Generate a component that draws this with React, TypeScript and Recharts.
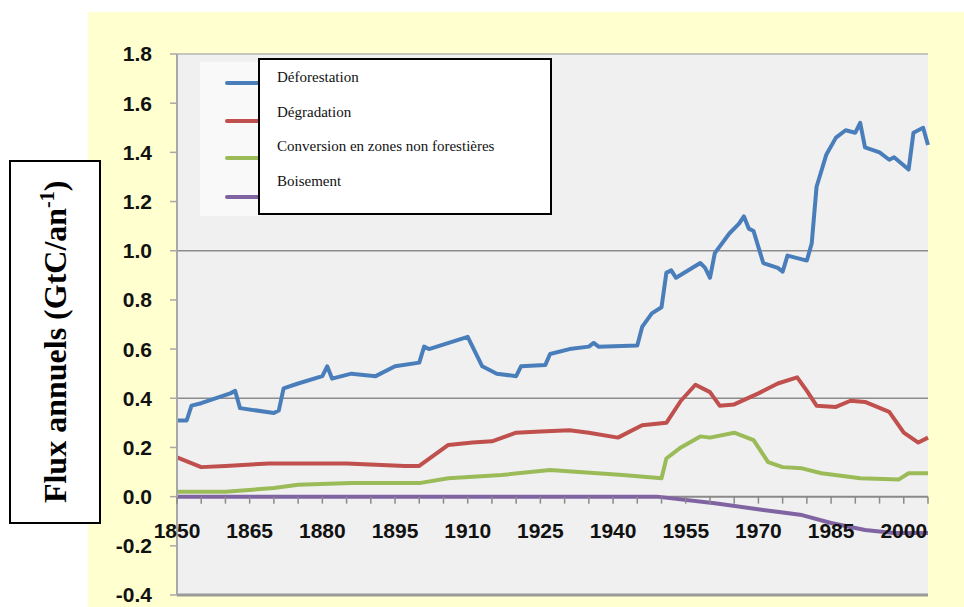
import React from 'react';
import {
  LineChart,
  Line,
  XAxis,
  YAxis,
  CartesianGrid,
  ReferenceLine,
  Legend,
} from 'recharts';

const W = 964;
const H = 607;
const PLOT_TOP = 54;
const PLOT_BOTTOM = 595;
const PLOT_LEFT = 177;
const PLOT_RIGHT = 928;
const Y_AXIS_W = 87;

const Y_MIN = -0.4;
const Y_MAX = 1.8;
const Y_TICKS = [-0.4, -0.2, 0, 0.2, 0.4, 0.6, 0.8, 1.0, 1.2, 1.4, 1.6, 1.8];
const X_TICKS = [
  1850, 1855, 1860, 1865, 1870, 1875, 1880, 1885, 1890, 1895, 1900, 1905, 1910, 1915, 1920,
  1925, 1930, 1935, 1940, 1945, 1950, 1955, 1960, 1965, 1970, 1975, 1980, 1985, 1990, 1995,
  2000, 2005,
];
const X_LABELS = [1850, 1865, 1880, 1895, 1910, 1925, 1940, 1955, 1970, 1985, 2000];

// Déforestation
const defoYears = [
  1850, 1852, 1853, 1855, 1861, 1862, 1863, 1870, 1871, 1872, 1875, 1880, 1881, 1882, 1886,
  1891, 1895, 1900, 1901, 1902, 1910, 1913, 1916, 1920, 1921, 1926, 1927, 1931, 1935, 1936,
  1937, 1945, 1946, 1948, 1950, 1951, 1952, 1953, 1958, 1959, 1960, 1961, 1964, 1966, 1967,
  1968, 1969, 1971, 1974, 1975, 1976, 1979, 1980, 1981, 1982, 1984, 1986, 1988, 1990, 1991,
  1992, 1995, 1997, 1998, 2001, 2002, 2004, 2005,
];
const defoValues = [
  0.31, 0.31, 0.37, 0.38, 0.42, 0.43, 0.36, 0.34, 0.35, 0.44, 0.46, 0.49, 0.53, 0.48, 0.5,
  0.49, 0.53, 0.545, 0.61, 0.6, 0.65, 0.53, 0.5, 0.49, 0.53, 0.535, 0.58, 0.6, 0.61, 0.625,
  0.61, 0.615, 0.69, 0.745, 0.77, 0.91, 0.92, 0.89, 0.95, 0.93, 0.89, 0.99, 1.07, 1.11, 1.14,
  1.09, 1.08, 0.95, 0.93, 0.915, 0.98, 0.965, 0.96, 1.03, 1.26, 1.39, 1.46, 1.49, 1.48, 1.52,
  1.42, 1.4, 1.37, 1.38, 1.33, 1.48, 1.5, 1.43,
];

// Dégradation
const degrYears = [
  1850, 1855, 1860, 1869, 1885, 1897, 1900, 1906, 1911, 1915, 1920, 1925, 1931, 1935, 1941,
  1946, 1951, 1954, 1957, 1960, 1962, 1965, 1970, 1974, 1978, 1980, 1982, 1986, 1989, 1992,
  1997, 2000, 2003, 2005,
];
const degrValues = [
  0.16, 0.12, 0.125, 0.135, 0.135, 0.125, 0.125, 0.21, 0.22, 0.225, 0.26, 0.265, 0.27, 0.26,
  0.24, 0.29, 0.3, 0.39, 0.455, 0.425, 0.37, 0.375, 0.42, 0.46, 0.485, 0.43, 0.37, 0.365, 0.39,
  0.385, 0.345, 0.26, 0.22, 0.24,
];

// Conversion en zones non forestières
const convYears = [
  1850, 1860, 1870, 1875, 1886, 1900, 1906, 1917, 1927, 1933, 1942, 1950, 1951, 1954, 1958,
  1960, 1965, 1969, 1972, 1975, 1979, 1983, 1991, 1999, 2001, 2005,
];
const convValues = [
  0.02, 0.02, 0.035, 0.048, 0.055, 0.055, 0.075, 0.088, 0.108, 0.1, 0.088, 0.075, 0.155, 0.2,
  0.245, 0.24, 0.26, 0.23, 0.14, 0.12, 0.115, 0.095, 0.075, 0.07, 0.095, 0.095,
];

// Boisement
const boisYears = [1850, 1949, 1961, 1971, 1979, 1985, 1992, 1998, 2005];
const boisValues = [0, 0, -0.027, -0.054, -0.075, -0.107, -0.136, -0.148, -0.148];

const SERIES = [
  { name: 'Déforestation', color: '#4a7ebb', years: defoYears, values: defoValues },
  { name: 'Dégradation', color: '#c0504d', years: degrYears, values: degrValues },
  { name: 'Conversion en zones non forestières', color: '#9bbb59', years: convYears, values: convValues },
  { name: 'Boisement', color: '#8064a2', years: boisYears, values: boisValues },
];
const SERIES_ORDER = SERIES.map((s) => s.name);

const toPoints = (years: number[], values: number[]) =>
  years.map((year, i) => ({ year, value: values[i] }));

const AXIS_FONT = '"Liberation Sans", Arial, sans-serif';
const ZERO_FROM_BOTTOM = ((0 - Y_MIN) / (Y_MAX - Y_MIN)) * (PLOT_BOTTOM - PLOT_TOP);

function YearTick(props: any) {
  const { x, y, payload } = props;
  const zy = y - ZERO_FROM_BOTTOM;
  const year = payload.value as number;
  return (
    <g>
      <line x1={x} x2={x} y1={zy} y2={zy + 7} stroke="#8a8a8a" strokeWidth={1.5} />
      {X_LABELS.includes(year) && (
        <text
          x={x}
          y={zy + 41}
          textAnchor="middle"
          fontFamily={AXIS_FONT}
          fontWeight="bold"
          fontSize={21}
          fill="#111"
        >
          {year}
        </text>
      )}
    </g>
  );
}

function LegendBox({ payload }: any) {
  const items = ([...(payload || [])] as { value: string; color: string }[]).sort(
    (a, b) => SERIES_ORDER.indexOf(a.value) - SERIES_ORDER.indexOf(b.value)
  );
  const rows = [83, 121, 158, 197];
  return (
    <div style={{ position: 'relative', width: 360, height: 165 }}>
      <div
        style={{
          position: 'absolute',
          left: 0,
          top: 4,
          width: 62,
          height: 154,
          background: '#f9f9f9',
        }}
      />
      {items.map((it, i) => (
        <div
          key={it.value}
          style={{
            position: 'absolute',
            left: 25,
            top: rows[i] - 58 - 2,
            width: 40,
            height: 4,
            borderRadius: 2,
            background: it.color,
          }}
        />
      ))}
      <div
        style={{
          position: 'absolute',
          left: 58,
          top: 0,
          width: 290,
          height: 153,
          border: '2px solid #000',
          background: '#fff',
          fontFamily: '"Liberation Serif", "Times New Roman", serif',
          fontSize: 15,
          color: '#111',
        }}
      >
        {items.map((it, i) => (
          <div
            key={it.value}
            style={{ position: 'absolute', left: 17, top: 9 + i * 34.7, whiteSpace: 'nowrap' }}
          >
            {it.value}
          </div>
        ))}
      </div>
    </div>
  );
}

export default function App() {
  return (
    <div
      style={{
        position: 'absolute',
        left: 0,
        top: 0,
        width: W,
        height: H,
        background: '#fff',
        overflow: 'hidden',
      }}
    >
      <div
        style={{
          position: 'absolute',
          left: 88,
          top: 12,
          width: W - 88,
          height: H - 12,
          background: '#ffffcf',
        }}
      />
      <div style={{ position: 'absolute', left: 0, top: 0 }}>
        <LineChart
          width={W}
          height={H}
          margin={{
            top: PLOT_TOP,
            right: W - PLOT_RIGHT,
            bottom: H - PLOT_BOTTOM - 1,
            left: PLOT_LEFT - Y_AXIS_W,
          }}
        >
          <CartesianGrid horizontal={false} vertical={false} fill="#f0f0f0" stroke="none" />
          <ReferenceLine y={1.8} stroke="#b5b5b5" strokeWidth={1.5} />
          <ReferenceLine y={1.0} stroke="#8c8c8c" strokeWidth={1.5} />
          <ReferenceLine y={0.4} stroke="#8c8c8c" strokeWidth={1.5} />
          <ReferenceLine y={0} stroke="#8a8a8a" strokeWidth={2} />
          <ReferenceLine y={-0.4} stroke="#9a9a9a" strokeWidth={3} />
          <XAxis
            type="number"
            dataKey="year"
            domain={[1850, 2005]}
            ticks={X_TICKS}
            interval={0}
            height={1}
            axisLine={false}
            tickLine={false}
            tickSize={0}
            tickMargin={0}
            tick={<YearTick />}
          />
          <YAxis
            type="number"
            domain={[Y_MIN, Y_MAX]}
            ticks={Y_TICKS}
            interval={0}
            width={Y_AXIS_W}
            tickSize={7}
            tickMargin={18}
            axisLine={{ stroke: '#a8a8a8', strokeWidth: 2 }}
            tickLine={{ stroke: '#a8a8a8', strokeWidth: 1.5 }}
            tickFormatter={(v: number) => v.toFixed(1)}
            tick={{ fontFamily: AXIS_FONT, fontWeight: 'bold', fontSize: 21, fill: '#111' }}
          />
          {SERIES.map((s) => (
            <Line
              key={s.name}
              name={s.name}
              data={toPoints(s.years, s.values)}
              dataKey="value"
              type="linear"
              stroke={s.color}
              strokeWidth={4}
              strokeLinejoin="round"
              dot={false}
              activeDot={false}
              isAnimationActive={false}
            />
          ))}
          <Legend
            layout="vertical"
            verticalAlign="middle"
            align="center"
            content={<LegendBox />}
            wrapperStyle={{ position: 'absolute', left: 200, top: 58, width: 360, height: 165 }}
          />
        </LineChart>
      </div>
      <div
        style={{
          position: 'absolute',
          left: 9,
          top: 160,
          width: 88,
          height: 360,
          border: '2px solid #000',
          background: '#fff',
          display: 'flex',
          alignItems: 'center',
          justifyContent: 'center',
        }}
      >
        <div
          style={{
            transform: 'rotate(-90deg)',
            whiteSpace: 'nowrap',
            fontFamily: '"Liberation Serif", "Times New Roman", serif',
            fontWeight: 'bold',
            fontSize: 32,
            color: '#000',
          }}
        >
          Flux annuels (GtC/an<sup style={{ fontSize: 20 }}>-1</sup>)
        </div>
      </div>
    </div>
  );
}
